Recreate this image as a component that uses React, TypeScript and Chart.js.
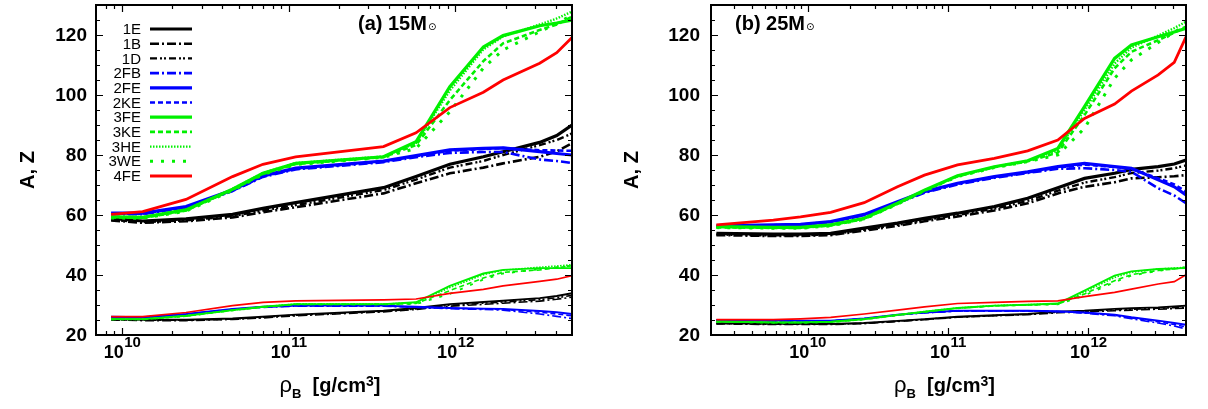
import React, { useEffect, useRef } from "react";
import { Chart, registerables } from "chart.js";

Chart.register(...registerables);

const FONT = "'Liberation Sans', Arial, Helvetica, sans-serif";

// ---------- series names (legend order) ----------
const seriesNames = ["1E", "1B", "1D", "2FB", "2FE", "2KE", "3FE", "3KE", "3HE", "3WE", "4FE"];

// ---------- axis ticks ----------
const yTickValues = [20, 25, 30, 35, 40, 45, 50, 55, 60, 65, 70, 75, 80, 85, 90, 95, 100, 105, 110, 115, 120, 125, 130];
const yTickLabels = [20, 40, 60, 80, 100, 120];
const xDecadeTicks = [1e10, 1e11, 1e12];
const xDecadeExponents = ["10", "11", "12"];
const xMinorTicks15 = [8e9, 9e9, 2e10, 3e10, 4e10, 5e10, 6e10, 7e10, 8e10, 9e10, 2e11, 3e11, 4e11, 5e11, 6e11, 7e11, 8e11, 9e11, 2e12, 3e12, 4e12];
const xMinorTicks25 = [3e9, 4e9, 5e9, 6e9, 7e9, 8e9, 9e9, 2e10, 3e10, 4e10, 5e10, 6e10, 7e10, 8e10, 9e10, 2e11, 3e11, 4e11, 5e11, 6e11, 7e11, 8e11, 9e11, 2e12, 3e12, 4e12];

// ---------- (a) 15 Msun : baryon density [g/cm^3] ----------
const rho15 = [8.6e9, 1.33e10, 2.42e10, 4.6e10, 7.0e10, 1.1e11, 3.7e11, 5.8e11, 9.25e11, 1.47e12, 1.93e12, 3.2e12, 4.05e12, 5.0e12];

// mass number A
const A15_1E = [58.9, 58.0, 58.7, 60.2, 62.2, 64.1, 69.1, 72.8, 76.9, 79.4, 81.1, 84.2, 86.5, 90.0];
const A15_1B = [58.2, 57.4, 57.9, 59.2, 60.9, 62.6, 67.2, 70.6, 73.9, 75.8, 77.2, 79.4, 81.2, 83.9];
const A15_1D = [58.4, 57.6, 58.2, 59.6, 61.5, 63.3, 68.3, 71.8, 75.8, 78.0, 80.0, 83.3, 85.0, 87.2];
const A15_2FB = [60.3, 60.3, 62.5, 68.0, 72.7, 75.2, 77.6, 79.3, 80.7, 81.0, 81.0, 78.5, 78.0, 77.3];
const A15_2FE = [60.6, 60.6, 62.8, 68.3, 73.1, 75.6, 78.0, 79.8, 81.7, 82.2, 82.4, 81.1, 80.5, 80.0];
const A15_2KE = [60.4, 60.4, 62.6, 68.1, 72.9, 75.4, 77.8, 79.6, 81.4, 82.0, 82.3, 81.6, 81.5, 81.4];
const A15_3FE = [59.4, 59.2, 61.7, 68.6, 73.9, 77.2, 79.4, 84.4, 102.8, 116.0, 119.8, 123.1, 124.0, 125.0];
const A15_3KE = [59.2, 59.0, 61.5, 68.4, 73.7, 77.0, 79.3, 83.3, 98.3, 111.3, 117.2, 121.7, 123.5, 126.1];
const A15_3HE = [59.4, 59.3, 61.8, 68.7, 74.0, 77.3, 79.5, 84.0, 101.5, 115.2, 119.5, 123.5, 125.5, 127.8];
const A15_3WE = [59.0, 58.9, 61.3, 68.2, 73.5, 76.8, 79.2, 82.2, 94.4, 109.0, 115.0, 121.1, 123.8, 126.7];
const A15_4FE = [60.2, 61.1, 65.2, 72.8, 76.9, 79.4, 82.8, 87.4, 95.8, 100.9, 105.0, 110.6, 114.1, 119.2];

// charge number Z
const Z15_1E = [25.3, 25.1, 25.1, 25.5, 26.1, 26.8, 28.1, 29.0, 30.3, 31.0, 31.4, 32.3, 33.0, 33.9];
const Z15_1B = [25.0, 24.8, 24.8, 25.2, 25.7, 26.4, 27.7, 28.5, 29.6, 30.2, 30.6, 31.3, 31.9, 32.6];
const Z15_1D = [25.1, 24.9, 24.9, 25.3, 25.9, 26.6, 27.9, 28.7, 29.9, 30.6, 31.0, 31.8, 32.4, 33.2];
const Z15_2FB = [25.9, 25.7, 26.8, 28.5, 29.2, 29.6, 29.6, 29.2, 28.8, 28.5, 28.3, 27.0, 26.2, 25.5];
const Z15_2FE = [26.1, 25.9, 27.0, 28.7, 29.4, 29.8, 29.8, 29.4, 29.0, 28.8, 28.7, 28.0, 27.6, 27.0];
const Z15_2KE = [26.0, 25.8, 26.9, 28.6, 29.3, 29.7, 29.7, 29.3, 28.9, 28.7, 28.5, 27.6, 27.0, 26.4];
const Z15_3FE = [25.3, 25.3, 26.4, 28.3, 29.4, 30.3, 30.3, 30.9, 36.4, 40.5, 41.7, 42.3, 42.3, 42.3];
const Z15_3KE = [25.2, 25.2, 26.3, 28.2, 29.3, 30.2, 30.2, 30.5, 34.8, 39.0, 40.9, 41.7, 42.4, 43.1];
const Z15_3HE = [25.3, 25.3, 26.4, 28.3, 29.4, 30.3, 30.3, 30.8, 35.8, 40.1, 41.6, 42.6, 43.0, 43.4];
const Z15_3WE = [25.2, 25.2, 26.3, 28.2, 29.3, 30.2, 30.2, 30.3, 33.7, 38.5, 40.5, 41.9, 42.6, 43.1];
const Z15_4FE = [26.1, 26.1, 27.5, 29.8, 30.9, 31.4, 31.7, 32.0, 33.9, 35.2, 36.4, 37.9, 38.6, 39.8];

// ---------- (b) 25 Msun : baryon density [g/cm^3] ----------
const rho25 = [2.24e9, 5.7e9, 8.9e9, 1.46e10, 2.53e10, 4.37e10, 6.8e10, 1.17e11, 2.14e11, 3.7e11, 6.07e11, 9.4e11, 1.54e12, 2.03e12, 3.15e12, 4.1e12, 4.97e12];

const A25_1E = [53.9, 53.6, 53.6, 53.9, 55.6, 57.3, 58.9, 60.6, 62.8, 65.6, 69.1, 72.2, 73.9, 75.2, 76.1, 77.0, 78.3];
const A25_1B = [53.3, 53.0, 53.0, 53.3, 54.8, 56.4, 57.9, 59.5, 61.5, 63.9, 67.2, 69.4, 70.9, 72.2, 72.6, 72.9, 73.3];
const A25_1D = [53.5, 53.2, 53.2, 53.5, 55.1, 56.7, 58.3, 60.0, 62.1, 64.7, 68.1, 70.8, 72.6, 74.0, 74.8, 75.6, 76.5];
const A25_2FB = [56.2, 56.5, 56.7, 57.6, 59.9, 64.0, 67.4, 70.2, 72.4, 74.0, 75.4, 75.6, 75.0, 74.4, 68.9, 66.5, 63.9];
const A25_2FE = [56.4, 56.7, 56.9, 57.8, 60.2, 64.4, 67.8, 70.6, 72.8, 74.4, 76.1, 77.2, 76.1, 75.6, 71.7, 69.4, 66.7];
const A25_2KE = [56.3, 56.6, 56.8, 57.7, 60.0, 64.2, 67.6, 70.4, 72.6, 74.2, 75.8, 76.8, 76.0, 75.4, 72.2, 70.2, 67.8];
const A25_3FE = [56.1, 55.9, 55.9, 56.7, 58.9, 63.9, 68.3, 73.1, 76.1, 78.1, 82.2, 96.1, 112.2, 116.7, 119.4, 121.0, 122.2];
const A25_3KE = [55.9, 55.7, 55.7, 56.5, 58.7, 63.7, 68.1, 72.9, 75.9, 77.9, 80.8, 93.3, 108.9, 114.4, 118.3, 120.8, 122.8];
const A25_3HE = [56.0, 55.8, 55.8, 56.6, 58.8, 63.8, 68.2, 73.0, 76.0, 78.0, 81.5, 95.0, 110.5, 115.8, 119.8, 122.3, 124.4];
const A25_3WE = [55.8, 55.6, 55.6, 56.4, 58.6, 63.6, 68.0, 72.8, 75.8, 77.8, 80.0, 88.9, 105.6, 111.7, 117.5, 121.0, 123.3];
const A25_4FE = [56.7, 58.3, 59.4, 60.9, 64.1, 69.4, 73.3, 76.7, 78.9, 81.4, 85.0, 92.2, 97.0, 101.3, 106.7, 110.9, 119.4];

const Z25_1E = [23.9, 23.7, 23.7, 23.7, 24.0, 24.7, 25.3, 26.1, 26.6, 27.0, 27.8, 28.1, 28.7, 28.9, 29.2, 29.5, 29.8];
const Z25_1B = [23.7, 23.5, 23.5, 23.5, 23.8, 24.5, 25.1, 25.9, 26.4, 26.8, 27.4, 27.7, 28.1, 28.3, 28.6, 28.8, 29.0];
const Z25_1D = [23.8, 23.6, 23.6, 23.6, 23.9, 24.6, 25.2, 26.0, 26.5, 26.9, 27.6, 27.9, 28.4, 28.6, 28.9, 29.1, 29.3];
const Z25_2FB = [24.9, 24.7, 24.7, 24.7, 25.4, 26.7, 27.4, 28.0, 28.0, 28.0, 27.8, 27.3, 26.4, 25.4, 24.0, 23.0, 22.0];
const Z25_2FE = [25.0, 24.8, 24.8, 24.8, 25.5, 26.8, 27.5, 28.1, 28.1, 28.1, 27.9, 27.5, 26.8, 25.9, 24.8, 24.0, 23.4];
const Z25_2KE = [24.9, 24.7, 24.7, 24.7, 25.4, 26.7, 27.4, 28.0, 28.0, 28.0, 27.8, 27.4, 26.6, 25.7, 24.4, 23.5, 22.7];
const Z25_3FE = [24.5, 24.2, 24.2, 24.4, 25.3, 26.7, 27.8, 29.0, 29.8, 30.1, 30.5, 34.8, 39.8, 41.2, 42.0, 42.2, 42.3];
const Z25_3KE = [24.4, 24.1, 24.1, 24.3, 25.2, 26.6, 27.7, 28.9, 29.7, 30.0, 30.3, 33.7, 38.1, 40.1, 41.5, 42.0, 42.5];
const Z25_3HE = [24.5, 24.2, 24.2, 24.4, 25.3, 26.7, 27.8, 29.0, 29.8, 30.1, 30.4, 34.3, 39.2, 40.9, 42.0, 42.3, 42.6];
const Z25_3WE = [24.4, 24.1, 24.1, 24.3, 25.2, 26.6, 27.7, 28.9, 29.7, 30.0, 30.2, 33.2, 37.6, 39.8, 41.4, 42.1, 42.6];
const Z25_4FE = [25.1, 25.1, 25.4, 25.9, 27.0, 28.3, 29.4, 30.5, 30.9, 31.2, 31.4, 32.8, 34.2, 35.3, 37.0, 37.8, 40.1];

// ---------- tables built from the arrays above ----------
const A15: Record<string, number[]> = { "1E": A15_1E, "1B": A15_1B, "1D": A15_1D, "2FB": A15_2FB, "2FE": A15_2FE, "2KE": A15_2KE, "3FE": A15_3FE, "3KE": A15_3KE, "3HE": A15_3HE, "3WE": A15_3WE, "4FE": A15_4FE };
const Z15: Record<string, number[]> = { "1E": Z15_1E, "1B": Z15_1B, "1D": Z15_1D, "2FB": Z15_2FB, "2FE": Z15_2FE, "2KE": Z15_2KE, "3FE": Z15_3FE, "3KE": Z15_3KE, "3HE": Z15_3HE, "3WE": Z15_3WE, "4FE": Z15_4FE };
const A25: Record<string, number[]> = { "1E": A25_1E, "1B": A25_1B, "1D": A25_1D, "2FB": A25_2FB, "2FE": A25_2FE, "2KE": A25_2KE, "3FE": A25_3FE, "3KE": A25_3KE, "3HE": A25_3HE, "3WE": A25_3WE, "4FE": A25_4FE };
const Z25: Record<string, number[]> = { "1E": Z25_1E, "1B": Z25_1B, "1D": Z25_1D, "2FB": Z25_2FB, "2FE": Z25_2FE, "2KE": Z25_2KE, "3FE": Z25_3FE, "3KE": Z25_3KE, "3HE": Z25_3HE, "3WE": Z25_3WE, "4FE": Z25_4FE };

// ---------- styles ----------
const BLACK = "#000000";
const BLUE = "#0000ff";
const GREEN = "#00f000";
const RED = "#ff0000";
const styles: Record<string, { color: string; dash: number[]; w: number }> = {
  "1E": { color: BLACK, dash: [], w: 3.2 },
  "1B": { color: BLACK, dash: [9, 3, 2, 3], w: 2.6 },
  "1D": { color: BLACK, dash: [7, 3, 2, 2, 2, 3], w: 2.4 },
  "2FB": { color: BLUE, dash: [9, 3, 2, 3], w: 2.6 },
  "2FE": { color: BLUE, dash: [], w: 3.2 },
  "2KE": { color: BLUE, dash: [5, 3], w: 2.6 },
  "3FE": { color: GREEN, dash: [], w: 3.2 },
  "3KE": { color: GREEN, dash: [5, 3], w: 2.6 },
  "3HE": { color: GREEN, dash: [1.5, 1.5], w: 2.4 },
  "3WE": { color: GREEN, dash: [3, 8], w: 3 },
  "4FE": { color: RED, dash: [], w: 2.8 },
};

type PanelOpts = {
  title: string;
  titleX: number;
  legend: boolean;
  xMinor: number[];
  yTitleX: number;
  xTitleShift: number;
  labelPad: number;
};

const panelPlugin = {
  id: "panel",
  afterDatasetsDraw(chart: any, _args: any, opts: PanelOpts) {
    const { ctx, chartArea: a } = chart;
    const xs = chart.scales.x;
    const ys = chart.scales.y;
    ctx.save();
    ctx.strokeStyle = "#000";
    ctx.setLineDash([]);
    ctx.lineWidth = 1.2;
    ctx.beginPath();
    const allX = [...xDecadeTicks, ...opts.xMinor];
    for (const v of allX) {
      const p = Math.round(xs.getPixelForValue(v)) + 0.5;
      const len = xDecadeTicks.includes(v) ? 7 : 4;
      ctx.moveTo(p, a.bottom);
      ctx.lineTo(p, a.bottom - len);
      ctx.moveTo(p, a.top);
      ctx.lineTo(p, a.top + len);
    }
    for (const v of yTickValues) {
      const p = Math.round(ys.getPixelForValue(v)) + 0.5;
      const len = yTickLabels.includes(v) ? 7 : 4;
      ctx.moveTo(a.left, p);
      ctx.lineTo(a.left + len, p);
      ctx.moveTo(a.right, p);
      ctx.lineTo(a.right - len, p);
    }
    ctx.stroke();
    ctx.lineWidth = 2;
    ctx.strokeRect(a.left, a.top, a.right - a.left, a.bottom - a.top);

    ctx.fillStyle = "#000";

    // y tick labels
    ctx.font = `bold 19px ${FONT}`;
    ctx.textAlign = "right";
    ctx.textBaseline = "middle";
    for (const v of yTickLabels) {
      const p = ys.getPixelForValue(v);
      ctx.fillText(String(v), a.left - opts.labelPad, p + 1);
    }

    // x tick labels: 10^n
    ctx.textBaseline = "alphabetic";
    ctx.textAlign = "left";
    const baseFont = `bold 18px ${FONT}`;
    const expFont = `bold 15px ${FONT}`;
    xDecadeTicks.forEach((v, i) => {
      const p = xs.getPixelForValue(v);
      ctx.font = baseFont;
      const w1 = ctx.measureText("10").width;
      ctx.font = expFont;
      const w2 = ctx.measureText(xDecadeExponents[i]).width;
      const x0 = p - (w1 + w2) / 2;
      ctx.font = baseFont;
      ctx.fillText("10", x0, a.bottom + 23);
      ctx.font = expFont;
      ctx.fillText(xDecadeExponents[i], x0 + w1 + 0.5, a.bottom + 12);
    });

    // x axis title: rho_B [g/cm^3]
    const parts = [
      { t: "\u03c1", f: `22px ${FONT}`, dy: 0 },
      { t: "B", f: `bold 13px ${FONT}`, dy: 6 },
      { t: "  [g/cm", f: `bold 20px ${FONT}`, dy: 0 },
      { t: "3", f: `bold 14px ${FONT}`, dy: -6 },
      { t: "]", f: `bold 20px ${FONT}`, dy: 0 },
    ];
    let total = 0;
    const widths = parts.map((pt) => {
      ctx.font = pt.f;
      const w = ctx.measureText(pt.t).width;
      total += w;
      return w;
    });
    let cx = (a.left + a.right) / 2 + opts.xTitleShift - total / 2;
    const base = a.bottom + 57;
    parts.forEach((pt, i) => {
      ctx.font = pt.f;
      ctx.fillText(pt.t, cx, base + pt.dy);
      cx += widths[i];
    });

    // y axis title
    ctx.save();
    ctx.translate(opts.yTitleX, (a.top + a.bottom) / 2);
    ctx.rotate(-Math.PI / 2);
    ctx.textAlign = "center";
    ctx.textBaseline = "middle";
    ctx.font = `bold 20px ${FONT}`;
    ctx.fillText("A, Z", 0, 0);
    ctx.restore();

    // panel title
    ctx.textAlign = "left";
    ctx.textBaseline = "alphabetic";
    ctx.font = `bold 20px ${FONT}`;
    ctx.fillText(opts.title, opts.titleX, a.top + 25);
    const tw = ctx.measureText(opts.title).width;
    ctx.font = `10px 'DejaVu Sans', ${FONT}`;
    ctx.fillText("\u2299", opts.titleX + tw + 1, a.top + 25);

    // legend
    if (opts.legend) {
      ctx.font = `15px ${FONT}`;
      ctx.textBaseline = "middle";
      seriesNames.forEach((name, i) => {
        const y = a.top + 24 + i * 14.7;
        const st = styles[name];
        ctx.fillStyle = "#000";
        ctx.textAlign = "right";
        ctx.fillText(name, a.left + 45, y + 1);
        ctx.strokeStyle = st.color;
        ctx.lineWidth = st.w;
        ctx.setLineDash(st.dash);
        ctx.beginPath();
        ctx.moveTo(a.left + 54, y);
        ctx.lineTo(a.left + 96, y);
        ctx.stroke();
      });
    }
    ctx.restore();
  },
};

function buildDatasets(rho: number[], A: Record<string, number[]>, Z: Record<string, number[]>) {
  const ds: any[] = [];
  const n = seriesNames.length;
  seriesNames.forEach((name, i) => {
    const st = styles[name];
    const common = {
      borderColor: st.color,
      borderDash: st.dash,
      pointRadius: 0,
      fill: false,
      tension: 0,
    };
    ds.push({ ...common, label: name, borderWidth: st.w, order: 2 * n - i, data: rho.map((x, k) => ({ x, y: A[name][k] })) });
    ds.push({ ...common, label: name + " Z", borderWidth: Math.max(1.6, st.w * 0.6), order: n - i, data: rho.map((x, k) => ({ x, y: Z[name][k] })) });
  });
  return ds;
}

type PanelProps = {
  left: number;
  width: number;
  yAxisWidth: number;
  padRight: number;
  xMin: number;
  xMax: number;
  rho: number[];
  A: Record<string, number[]>;
  Z: Record<string, number[]>;
  panel: PanelOpts;
};

function Panel(p: PanelProps) {
  const ref = useRef<HTMLCanvasElement>(null);
  useEffect(() => {
    const chart = new Chart(ref.current as HTMLCanvasElement, {
      type: "line",
      data: { datasets: buildDatasets(p.rho, p.A, p.Z) },
      plugins: [panelPlugin as any],
      options: {
        responsive: false,
        animation: false,
        devicePixelRatio: 1,
        layout: { padding: { left: 0, right: p.padRight, top: 5, bottom: 0 }, autoPadding: false } as any,
        plugins: {
          legend: { display: false },
          tooltip: { enabled: false },
          panel: p.panel,
        } as any,
        scales: {
          x: {
            type: "logarithmic",
            min: p.xMin,
            max: p.xMax,
            grid: { display: false },
            border: { display: false },
            ticks: { display: false },
            afterFit: (s: any) => {
              s.height = 74;
            },
          },
          y: {
            type: "linear",
            min: 20,
            max: 130,
            grid: { display: false },
            border: { display: false },
            afterBuildTicks: (s: any) => {
              s.ticks = yTickValues.map((v) => ({ value: v }));
            },
            ticks: { display: false },
            afterFit: (s: any) => {
              s.width = p.yAxisWidth;
            },
          },
        },
      } as any,
    });
    return () => chart.destroy();
  }, []);
  return (
    <div style={{ position: "absolute", left: p.left, top: 0, width: p.width, height: 409 }}>
      <canvas ref={ref} width={p.width} height={409} style={{ display: "block", width: p.width, height: 409 }} />
    </div>
  );
}

export default function App() {
  return (
    <div style={{ position: "absolute", left: 0, top: 0, width: 1208, height: 409, background: "#fff" }}>
      <Panel
        left={0}
        width={600}
        yAxisWidth={96}
        padRight={28}
        xMin={6.98e9}
        xMax={5.0e12}
        rho={rho15}
        A={A15}
        Z={Z15}
        panel={{ title: "(a) 15M", titleX: 358, legend: true, xMinor: xMinorTicks15, yTitleX: 28, xTitleShift: -4, labelPad: 9 }}
      />
      <Panel
        left={600}
        width={608}
        yAxisWidth={111}
        padRight={22}
        xMin={2.05e9}
        xMax={4.97e12}
        rho={rho25}
        A={A25}
        Z={Z25}
        panel={{ title: "(b) 25M", titleX: 135, legend: false, xMinor: xMinorTicks25, yTitleX: 32, xTitleShift: -4, labelPad: 11 }}
      />
    </div>
  );
}
